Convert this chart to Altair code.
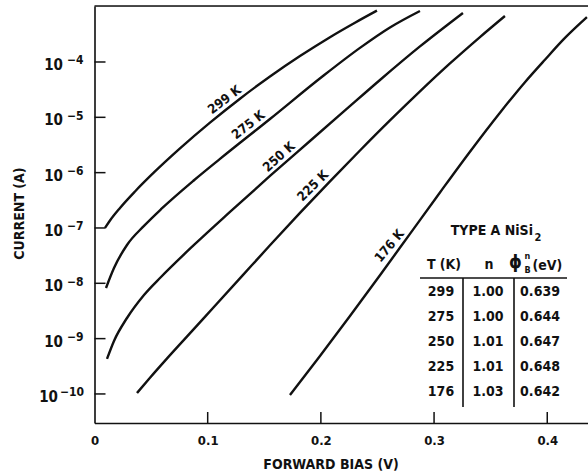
import altair as alt
import pandas as pd

FONT = "DejaVu Sans Condensed, DejaVu Sans, sans-serif"
INK = "#111111"

# ---------------- data ----------------
temps = ["299 K", "275 K", "250 K", "225 K", "176 K"]

v_299 = [0.00928, 0.01369, 0.02253, 0.03578, 0.05345, 0.07553, 0.10203, 0.12853, 0.15504, 0.18154, 0.20804, 0.23012, 0.24956]
i_299 = [1.00e-7, 1.365e-7, 2.30e-7, 4.57e-7, 1.05e-6, 2.74e-6, 8.0e-6, 2.17e-5, 5.47e-5, 1.28e-4, 2.81e-4, 5.13e-4, 8.49e-4]

v_275 = [0.01016, 0.01723, 0.02871, 0.04373, 0.05875, 0.08790, 0.11087, 0.15504, 0.20186, 0.23454, 0.26104, 0.28754]
i_275 = [8.22e-9, 1.89e-8, 4.93e-8, 1.09e-7, 2.18e-7, 7.28e-7, 1.77e-6, 9.33e-6, 5.58e-5, 1.80e-4, 4.21e-4, 8.36e-4]

v_250 = [0.01104, 0.01723, 0.02871, 0.04373, 0.05875, 0.08790, 0.11970, 0.15504, 0.19037, 0.22129, 0.25221, 0.28754, 0.32553]
i_250 = [4.29e-10, 9.08e-10, 2.36e-9, 6.15e-9, 1.30e-8, 4.93e-8, 1.95e-7, 8.71e-7, 3.73e-6, 1.33e-5, 4.73e-5, 1.91e-4, 7.69e-4]

v_225 = [0.03754, 0.04903, 0.06316, 0.08790, 0.10468, 0.13207, 0.15504, 0.18154, 0.20804, 0.23454, 0.26104, 0.28754, 0.31405, 0.34055, 0.36263]
i_225 = [1.04e-10, 1.96e-10, 4.17e-10, 1.50e-9, 3.58e-9, 1.48e-8, 4.86e-8, 1.87e-7, 6.95e-7, 2.51e-6, 8.77e-6, 2.94e-5, 9.40e-5, 2.82e-4, 6.78e-4]

v_176 = [0.17270, 0.19921, 0.22571, 0.25221, 0.27871, 0.30521, 0.33171, 0.35822, 0.38030, 0.39797, 0.41564, 0.43507]
i_176 = [9.59e-11, 4.85e-10, 2.56e-9, 1.40e-8, 7.82e-8, 4.38e-7, 2.39e-6, 1.21e-5, 4.32e-5, 1.10e-4, 2.72e-4, 6.47e-4]

# curve label anchors (data units)
lab_v = [0.115, 0.136, 0.163, 0.193, 0.2606]
lab_i = [2.06e-5, 7.26e-6, 1.92e-6, 5.74e-7, 4.73e-8]

# axis ticks
x_tick_vals = [0.1, 0.2, 0.3, 0.4]
x_label_vals = [0, 0.1, 0.2, 0.3, 0.4]
y_tick_vals = [1e-4, 1e-5, 1e-6, 1e-7, 1e-8, 1e-9, 1e-10]
y_exps = ["\u22124", "\u22125", "\u22126", "\u22127", "\u22128", "\u22129", "\u221210"]

# inset table
tab_title = "TYPE A NiSi"
tab_T = ["299", "275", "250", "225", "176"]
tab_n = ["1.00", "1.00", "1.01", "1.01", "1.03"]
tab_phi = ["0.639", "0.644", "0.647", "0.648", "0.642"]

# ---------------- build ----------------
series = [(temps[0], v_299, i_299), (temps[1], v_275, i_275), (temps[2], v_250, i_250),
          (temps[3], v_225, i_225), (temps[4], v_176, i_176)]
rows = []
for t, vs, is_ in series:
    for k, (v, i) in enumerate(zip(vs, is_)):
        rows.append({"T": t, "V": v, "I": i, "k": k})
df = pd.DataFrame(rows)

W, H = 493.5, 417
xs = alt.Scale(domain=[0, 0.436], nice=False, zero=False)
ys = alt.Scale(type="log", domain=[2.985e-11, 1.028e-3], nice=False)

txt = dict(font=FONT, fontWeight="bold", color=INK)

curves = alt.Chart(df).mark_line(color=INK, strokeWidth=2.4, interpolate="monotone", clip=True).encode(
    x=alt.X("V:Q", scale=xs, axis=alt.Axis(
        values=x_label_vals,
        labelExpr="datum.value == 0 ? '0' : format(datum.value, '.1f')",
        ticks=False, grid=False, domain=True, domainColor=INK, domainWidth=1.6,
        labelFont=FONT, labelFontSize=13, labelFontWeight="bold", labelColor=INK,
        labelPadding=11, labelFlush=False,
        title="FORWARD BIAS (V)", titleFont=FONT, titleFontSize=14, titleFontWeight="bold",
        titleColor=INK, titleX=236, titleY=45, titleBaseline="alphabetic")),
    y=alt.Y("I:Q", scale=ys, axis=alt.Axis(
        labels=False, ticks=False, grid=False, domain=True, domainColor=INK, domainWidth=1.6,
        title="CURRENT (A)", titleFont=FONT, titleFontSize=14, titleFontWeight="bold",
        titleColor=INK, titleX=-75, titleY=207, titleAngle=270, titleBaseline="middle")),
    detail="T:N",
    order="k:Q",
)

one = pd.DataFrame({"a": [0]})
frame_top = alt.Chart(one).mark_rule(color=INK, strokeWidth=1.6).encode(
    x=alt.value(0), x2=alt.value(W), y=alt.value(0))

xt = alt.Chart(pd.DataFrame({"V": x_tick_vals})).mark_rule(color=INK, strokeWidth=1.5).encode(
    x=alt.X("V:Q", scale=xs), y=alt.value(H), y2=alt.value(H - 11))
yt = alt.Chart(pd.DataFrame({"I": y_tick_vals})).mark_rule(color=INK, strokeWidth=1.5).encode(
    y=alt.Y("I:Q", scale=ys), x=alt.value(0), x2=alt.value(11))

ylab = pd.DataFrame({"I": y_tick_vals, "e": y_exps})
base_a = alt.Chart(ylab).transform_filter("length(datum.e) < 3").mark_text(
    text="10", align="right", baseline="middle", dy=3, fontSize=15, **txt).encode(
    y=alt.Y("I:Q", scale=ys), x=alt.value(-31.5))
base_b = alt.Chart(ylab).transform_filter("length(datum.e) >= 3").mark_text(
    text="10", align="right", baseline="middle", dy=3, fontSize=15, **txt).encode(
    y=alt.Y("I:Q", scale=ys), x=alt.value(-36.5))
exp_a = alt.Chart(ylab).transform_filter("length(datum.e) < 3").mark_text(
    align="left", baseline="middle", dy=-1.5, fontSize=12, **txt).encode(
    y=alt.Y("I:Q", scale=ys), x=alt.value(-27.5), text="e:N")
exp_b = alt.Chart(ylab).transform_filter("length(datum.e) >= 3").mark_text(
    align="left", baseline="middle", dy=-1.5, fontSize=12, **txt).encode(
    y=alt.Y("I:Q", scale=ys), x=alt.value(-34.5), text="e:N")

label_angles = [323, 322, 318, 315, 310]
labels = []
for t, v, i, a in zip(temps, lab_v, lab_i, label_angles):
    labels.append(alt.Chart(pd.DataFrame({"T": [t], "V": [v], "I": [i]})).mark_text(
        align="center", baseline="middle", angle=a, fontSize=13, **txt).encode(
        x=alt.X("V:Q", scale=xs), y=alt.Y("I:Q", scale=ys), text="T:N"))

# table
tab_df = pd.DataFrame({"r": list(range(len(tab_T))), "T": tab_T, "n": tab_n, "p": tab_phi})
def col(field, xpos):
    return alt.Chart(tab_df).transform_calculate(yp="286 + 25 * datum.r").mark_text(
        align="center", baseline="middle", fontSize=14, **txt).encode(
        x=alt.value(xpos), y=alt.Y("yp:Q", scale=None), text=f"{field}:N")

tab_cols = [col("T", 346.5), col("n", 393.5), col("p", 445.5)]

def fixed_text(s, xpos, ypos, size, align="center"):
    return alt.Chart(one).mark_text(text=s, align=align, baseline="middle", fontSize=size, **txt).encode(
        x=alt.value(xpos), y=alt.value(ypos))

tab_heads = [
    fixed_text(tab_title, 438.5, 225, 14, "right"),
    fixed_text("2", 440, 232, 11, "left"),
    fixed_text("T (K)", 349.5, 259, 14),
    fixed_text("n", 394.5, 259, 14),
    fixed_text("\u03d5", 421, 257, 18),
    fixed_text("n", 430, 249.5, 9, "left"),
    fixed_text("B", 430, 264, 9, "left"),
    fixed_text("(eV)", 438, 260, 14, "left"),
]
tab_lines = [
    alt.Chart(one).mark_rule(color=INK, strokeWidth=1.6).encode(x=alt.value(325.5), x2=alt.value(472.5), y=alt.value(272)),
    alt.Chart(one).mark_rule(color=INK, strokeWidth=1.6).encode(x=alt.value(368.5), y=alt.value(272), y2=alt.value(401)),
    alt.Chart(one).mark_rule(color=INK, strokeWidth=1.6).encode(x=alt.value(419.5), y=alt.value(272), y2=alt.value(401)),
]

chart = alt.layer(
    curves, frame_top, xt, yt, base_a, base_b, exp_a, exp_b, *labels, *tab_cols, *tab_heads, *tab_lines
).properties(
    width=W, height=H,
    padding={"left": 94.5, "top": 6, "right": 0, "bottom": 48},
    autosize=alt.AutoSizeParams(type="none"),
).configure_view(stroke=None).configure(background="white")

chart.save("out.html", embed_options={"renderer": "svg", "actions": False})
